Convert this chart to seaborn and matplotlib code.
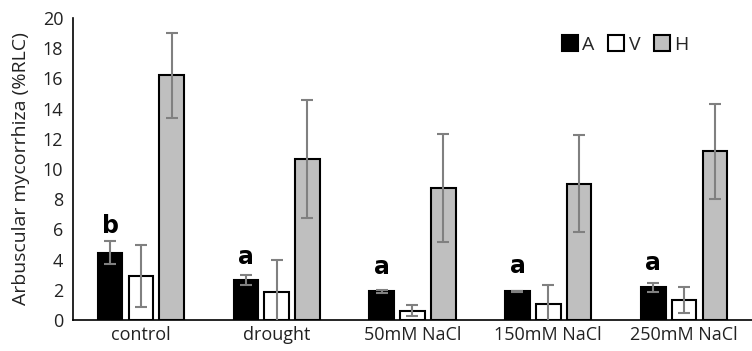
import numpy as np
import pandas as pd
import matplotlib
matplotlib.use("Agg")
import matplotlib.pyplot as plt
import seaborn as sns
from matplotlib.lines import Line2D

categories = ["control", "drought", "50mM NaCl", "150mM NaCl", "250mM NaCl"]
series = ["A", "V", "H"]
A_vals = [4.46, 2.63, 1.92, 1.90, 2.17]
V_vals = [2.92, 1.88, 0.62, 1.06, 1.33]
H_vals = [16.2, 10.65, 8.75, 9.04, 11.16]
A_err = [0.75, 0.33, 0.10, 0.05, 0.28]
V_err = [2.05, 2.10, 0.38, 1.26, 0.84]
H_err = [2.83, 3.90, 3.58, 3.23, 3.14]
letters = ["b", "a", "a", "a", "a"]
letter_y = [6.2, 4.2, 3.5, 3.58, 3.8]
yticks = [0, 2, 4, 6, 8, 10, 12, 14, 16, 18, 20]

sns.set_theme(style="white")
plt.rcParams["font.family"] = ["Open Sans", "DejaVu Sans"]

rows = []
for s, vals, errs in zip(series, [A_vals, V_vals, H_vals], [A_err, V_err, H_err]):
    for c, v, e in zip(categories, vals, errs):
        rows.append({"cat": c, "series": s, "value": v, "err": e})
df = pd.DataFrame(rows)

colors = {"A": "#000000", "V": "#ffffff", "H": "#bfbfbf"}

fig = plt.figure(figsize=(7.52, 3.51), dpi=100)
ax = fig.add_axes([0.097, 0.088, 0.903, 0.861])
sns.barplot(data=df, x="cat", y="value", hue="series", order=categories,
            hue_order=series, palette=colors, width=0.68, gap=0.2,
            edgecolor="black", linewidth=1.5, errorbar=None, legend=False, ax=ax)

# error bars from bar patches
for i, s in enumerate(series):
    cont = ax.containers[i]
    sub = df[df.series == s].set_index("cat").loc[categories]
    xs = [p.get_x() + p.get_width() / 2 for p in cont.patches]
    ax.errorbar(xs, sub["value"].values, yerr=sub["err"].values, fmt="none",
                ecolor="#808080", elinewidth=1.5, capsize=4, capthick=1.5, zorder=5)
    if s == "A":
        for x, lab, ly in zip(xs, letters, letter_y):
            ax.text(x, ly, lab, ha="center", va="center", fontsize=17,
                    fontweight="heavy", family="DejaVu Sans", color="black")

ax.set_ylim(0, 20)
ax.set_xlim(-0.5, 4.5)
ax.set_yticks(yticks)
ax.set_yticklabels([str(t) for t in yticks])
ax.tick_params(axis="x", labelsize=13, colors="#222222", length=0, pad=4)
ax.tick_params(axis="y", labelsize=13, colors="#222222", length=0, pad=7)
ax.set_xlabel("")
ax.set_ylabel("Arbuscular mycorrhiza (%RLC)", fontsize=14, color="#222222")
ax.yaxis.set_label_coords(-0.063, 0.5)
for sp in ["top", "right"]:
    ax.spines[sp].set_visible(False)
for sp in ["left", "bottom"]:
    ax.spines[sp].set_color("black")
    ax.spines[sp].set_linewidth(1.2)

handles = [Line2D([0], [0], marker="s", linestyle="none", markersize=11,
                  markerfacecolor=colors[s], markeredgecolor="black",
                  markeredgewidth=1.5, label=s) for s in series]
fig.legend(handles=handles, loc="center left", bbox_to_anchor=(560 / 752, 1 - 45 / 351),
           ncol=3, frameon=False, fontsize=14, handletextpad=0.15, columnspacing=0.6,
           handlelength=1.0, borderpad=0, borderaxespad=0)

fig.savefig("out.png", dpi=100)
